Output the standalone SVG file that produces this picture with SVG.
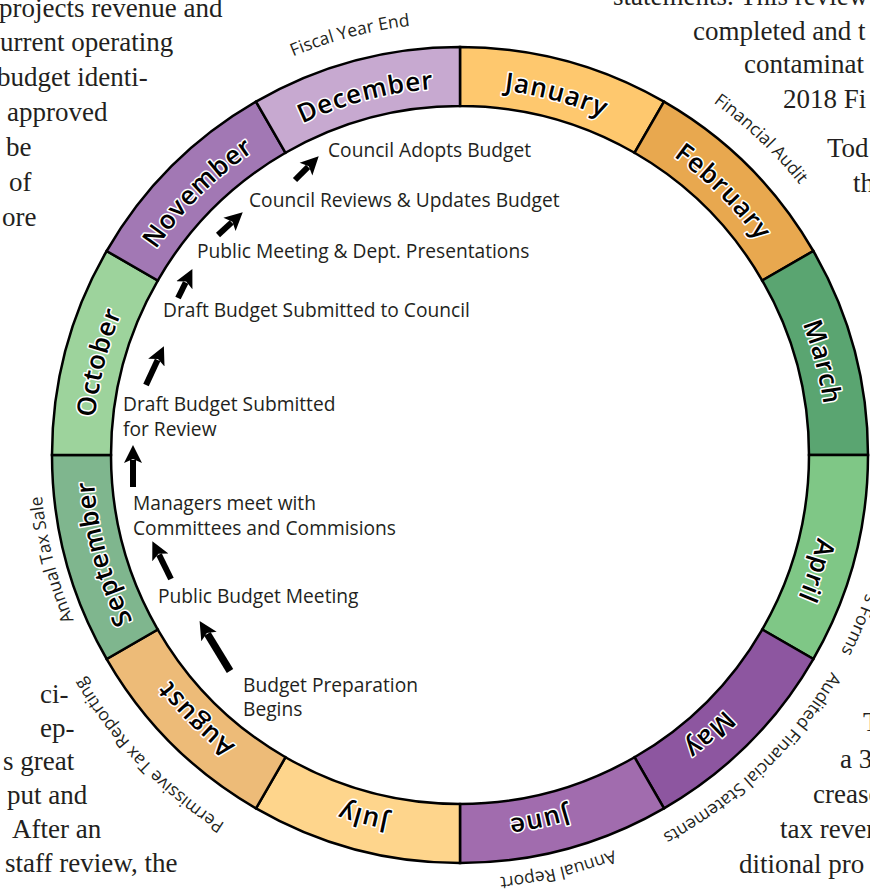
<svg xmlns="http://www.w3.org/2000/svg" xmlns:xlink="http://www.w3.org/1999/xlink" width="870" height="895" viewBox="0 0 870 895">
<style>
.bg{font-family:"Liberation Serif",serif;font-size:27px;fill:#231f20}
.seg{stroke:#000;stroke-width:2.5;stroke-linejoin:miter}
.mon{font-family:"Open Sans",sans-serif;font-weight:600;font-size:26px;fill:#000;stroke:#fff;stroke-width:3;paint-order:stroke;stroke-linejoin:round;letter-spacing:1px}
.out{font-family:"Open Sans",sans-serif;font-size:17.5px;fill:#231f20}
.step{font-family:"Open Sans",sans-serif;font-size:19.2px;fill:#231f20}
.arr{stroke:#000;stroke-width:6;fill:none;marker-end:url(#ah)}
</style>
<defs>
<marker id="ah" markerUnits="userSpaceOnUse" markerWidth="22" markerHeight="22" viewBox="0 0 22 22" refX="3" refY="11" orient="auto">
<path d="M0,2 L18,11 L0,20 L4,11 Z" fill="#000"/>
</marker>
<path id="c367" d="M460,88 A367,367 0 1 1 460,822 A367,367 0 1 1 460,88"/>
<path id="c420" d="M460,35 A420,420 0 1 1 460,875 A420,420 0 1 1 460,35"/>
<path id="c424" d="M460,31 A424,424 0 1 1 460,879 A424,424 0 1 1 460,31"/>
<path id="c429" d="M460,26 A429,429 0 1 1 460,884 A429,429 0 1 1 460,26"/>
<path id="c430" d="M460,25 A430,430 0 1 1 460,885 A430,430 0 1 1 460,25"/>
<path id="c432" d="M460,23 A432,432 0 1 1 460,887 A432,432 0 1 1 460,23"/>
<path id="c434" d="M460,21 A434,434 0 1 1 460,889 A434,434 0 1 1 460,21"/>
<path id="c437" d="M460,18 A437,437 0 1 1 460,892 A437,437 0 1 1 460,18"/>
</defs>
<rect width="870" height="895" fill="#fff"/>

<g id="background-text" class="bg">
<text x="-1" y="17">projects revenue and</text>
<text x="0" y="51">urrent operating</text>
<text x="-3" y="86">budget identi-</text>
<text x="7" y="121">approved</text>
<text x="6" y="156">be</text>
<text x="9" y="191">of</text>
<text x="2" y="226">ore</text>
<text x="613" y="5">statements. This review</text>
<text x="693" y="40">completed and t</text>
<text x="744" y="73">contaminat</text>
<text x="783" y="108">2018 Fi</text>
<text x="827" y="157">Tod</text>
<text x="853" y="192">th</text>
<text x="40" y="703">ci-</text>
<text x="40" y="737">ep-</text>
<text x="3" y="770">s great</text>
<text x="7" y="804">put and</text>
<text x="12" y="838">After an</text>
<text x="5" y="872">staff review, the</text>
<text x="863" y="731">T</text>
<text x="840" y="768">a 3</text>
<text x="813" y="803">crease</text>
<text x="780" y="838">tax reven</text>
<text x="739" y="873">ditional pro</text>
</g>

<g id="ring">
<g id="month-january"><path class="seg" fill="#FEC86E" d="M460,47 A408,408 0 0 1 664,101.67 L634.5,152.76 A349,349 0 0 0 460,106 Z"/><text class="mon" text-anchor="middle"><textPath href="#c367" xlink:href="#c367" startOffset="4.17%">January</textPath></text></g>
<g id="month-february"><path class="seg" fill="#E8A84F" d="M664,101.67 A408,408 0 0 1 813.33,251 L762.24,280.5 A349,349 0 0 0 634.5,152.76 Z"/><text class="mon" text-anchor="middle"><textPath href="#c367" xlink:href="#c367" startOffset="12.5%">February</textPath></text></g>
<g id="month-march"><path class="seg" fill="#5AA571" d="M813.33,251 A408,408 0 0 1 868,455 L809,455 A349,349 0 0 0 762.24,280.5 Z"/><text class="mon" text-anchor="middle"><textPath href="#c367" xlink:href="#c367" startOffset="21%">March</textPath></text></g>
<g id="month-april"><path class="seg" fill="#7FC786" d="M868,455 A408,408 0 0 1 813.33,659 L762.24,629.5 A349,349 0 0 0 809,455 Z"/><text class="mon" text-anchor="middle"><textPath href="#c367" xlink:href="#c367" startOffset="30%">April</textPath></text></g>
<g id="month-may"><path class="seg" fill="#8D56A0" d="M813.33,659 A408,408 0 0 1 664,808.33 L634.5,757.24 A349,349 0 0 0 762.24,629.5 Z"/><text class="mon" text-anchor="middle"><textPath href="#c367" xlink:href="#c367" startOffset="38.4%">May</textPath></text></g>
<g id="month-june"><path class="seg" fill="#A16CAE" d="M664,808.33 A408,408 0 0 1 460,863 L460,804 A349,349 0 0 0 634.5,757.24 Z"/><text class="mon" text-anchor="middle"><textPath href="#c367" xlink:href="#c367" startOffset="46.6%">June</textPath></text></g>
<g id="month-july"><path class="seg" fill="#FED58C" d="M460,863 A408,408 0 0 1 256,808.33 L285.5,757.24 A349,349 0 0 0 460,804 Z"/><text class="mon" text-anchor="middle"><textPath href="#c367" xlink:href="#c367" startOffset="54.17%">July</textPath></text></g>
<g id="month-august"><path class="seg" fill="#EDBB78" d="M256,808.33 A408,408 0 0 1 106.67,659 L157.76,629.5 A349,349 0 0 0 285.5,757.24 Z"/><text class="mon" text-anchor="middle"><textPath href="#c367" xlink:href="#c367" startOffset="62.5%">August</textPath></text></g>
<g id="month-september"><path class="seg" fill="#7FB68E" d="M106.67,659 A408,408 0 0 1 52,455 L111,455 A349,349 0 0 0 157.76,629.5 Z"/><text class="mon" text-anchor="middle"><textPath href="#c367" xlink:href="#c367" startOffset="70.7%">September</textPath></text></g>
<g id="month-october"><path class="seg" fill="#9DD39C" d="M52,455 A408,408 0 0 1 106.67,251 L157.76,280.5 A349,349 0 0 0 111,455 Z"/><text class="mon" text-anchor="middle"><textPath href="#c367" xlink:href="#c367" startOffset="79.0%">October</textPath></text></g>
<g id="month-november"><path class="seg" fill="#A278B4" d="M106.67,251 A408,408 0 0 1 256,101.67 L285.5,152.76 A349,349 0 0 0 157.76,280.5 Z"/><text class="mon" text-anchor="middle"><textPath href="#c367" xlink:href="#c367" startOffset="87.5%">November</textPath></text></g>
<g id="month-december"><path class="seg" fill="#C7A9D0" d="M256,101.67 A408,408 0 0 1 460,47 L460,106 A349,349 0 0 0 285.5,152.76 Z"/><text class="mon" text-anchor="middle"><textPath href="#c367" xlink:href="#c367" startOffset="95.9%">December</textPath></text></g>
</g>

<g id="outer-labels" class="out">
<text id="lbl-fiscal" text-anchor="middle"><textPath href="#c432" xlink:href="#c432" startOffset="95.92%">Fiscal Year End</textPath></text>
<text id="lbl-audit" text-anchor="middle"><textPath href="#c434" xlink:href="#c434" startOffset="12.11%">Financial Audit</textPath></text>
<text id="lbl-forms" text-anchor="end"><textPath href="#c429" xlink:href="#c429" startOffset="32.6%">s Forms</textPath></text>
<text id="lbl-audited" text-anchor="middle"><textPath href="#c430" xlink:href="#c430" startOffset="37.8%">Audited Financial Statements</textPath></text>
<text id="lbl-report" text-anchor="middle"><textPath href="#c424" xlink:href="#c424" startOffset="46.3%">Annual Report</textPath></text>
<text id="lbl-permissive" text-anchor="middle"><textPath href="#c437" xlink:href="#c437" startOffset="62.78%">Permissive Tax Reporting</textPath></text>
<text id="lbl-taxsale" text-anchor="middle"><textPath href="#c420" xlink:href="#c420" startOffset="71.0%">Annual Tax Sale</textPath></text>
</g>

<g id="steps" class="step">
<g id="step-adopts"><text x="328" y="157">Council Adopts Budget</text></g>
<g id="step-reviews"><text x="249" y="207">Council Reviews &amp; Updates Budget</text></g>
<g id="step-public-meeting"><text x="197" y="258">Public Meeting &amp; Dept. Presentations</text></g>
<g id="step-to-council"><text x="163" y="317">Draft Budget Submitted to Council</text></g>
<g id="step-for-review"><text x="123" y="411">Draft Budget Submitted<tspan x="123" y="436">for Review</tspan></text></g>
<g id="step-managers"><text x="133" y="510">Managers meet with<tspan x="133" y="535">Committees and Commisions</tspan></text></g>
<g id="step-public-budget"><text x="158" y="603">Public Budget Meeting</text></g>
<g id="step-prep"><text x="243" y="692">Budget Preparation<tspan x="243" y="716">Begins</tspan></text></g>
</g>

<g id="connectors">
<line class="arr" style="stroke-width:7.5" x1="230" y1="671" x2="207.4" y2="633.9"/>
<line class="arr" x1="171" y1="579" x2="159" y2="554.7"/>
<line class="arr" x1="133" y1="487" x2="133" y2="460"/>
<line class="arr" x1="146" y1="385" x2="157.6" y2="359.9"/>
<line class="arr" x1="178" y1="298" x2="185.7" y2="282.5"/>
<line class="arr" x1="218" y1="235" x2="231.7" y2="222.4"/>
<line class="arr" x1="295" y1="180" x2="308.1" y2="166.9"/>
</g>
</svg>
